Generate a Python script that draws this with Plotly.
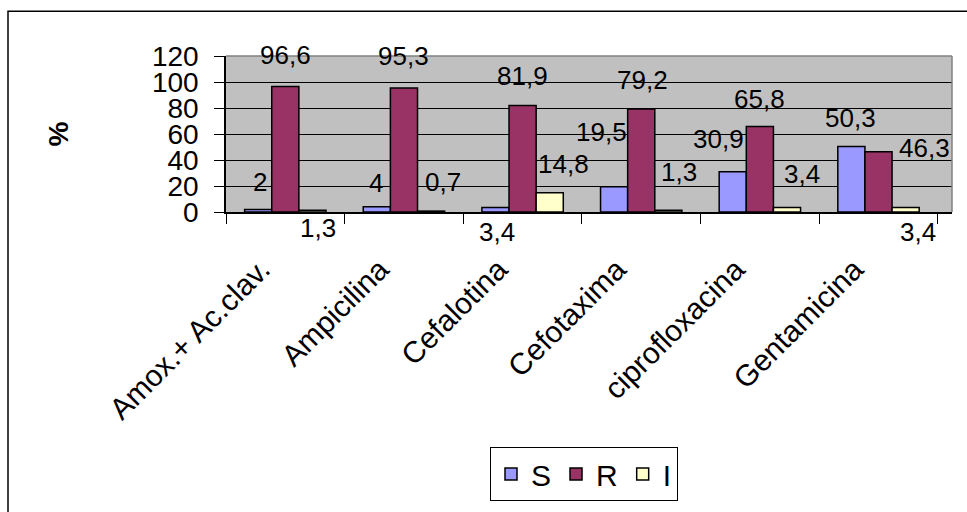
import plotly.graph_objects as go

# Antibiotic susceptibility profile (% of isolates)
categories = ["Amox.+ Ac.clav.", "Ampicilina", "Cefalotina",
              "Cefotaxima", "ciprofloxacina", "Gentamicina"]
series_names = ["S", "R", "I"]
s_values = [2, 4, 3.4, 19.5, 30.9, 50.3]
r_values = [96.6, 95.3, 81.9, 79.2, 65.8, 46.3]
i_values = [1.3, 0.7, 14.8, 1.3, 3.4, 3.4]
y_ticks = [0, 20, 40, 60, 80, 100, 120]

colors = ["#9999FF", "#993366", "#FFFFCC"]
values = [s_values, r_values, i_values]

# Hand-placed value labels: pixel offsets of each label's centre from the
# top-centre of its bar (dx to the right, dy downward)
label_dx = [
    [2, 0, 2, -12, -14, 0],
    [0, 0, 0, 1, 0, 46],
    [5, 11, 13, 10, 14, 12],
]
label_dy = [
    [-27, -24, 24, -55, -33, -29],
    [-31, -32, -30, -29, -27, -4],
    [18, -29, -29, -38, -34, 24],
]

FONT = "Liberation Sans, Arial, sans-serif"
W, H = 967, 512
L, R, T, B = 226, 15, 56, 296
plot_w = W - L - R
plot_h = H - T - B
bargap = 0.314
bar_w = plot_w / len(categories) * (1 - bargap) / len(series_names)

fig = go.Figure()
for name, vals, col in zip(series_names, values, colors):
    fig.add_trace(go.Bar(
        name=name, x=categories, y=vals,
        marker=dict(color=col, line=dict(color="black", width=1.5)),
    ))

annotations = []
for k, vals in enumerate(values):
    offset = (k - 1) * bar_w
    for j, v in enumerate(vals):
        annotations.append(dict(
            x=categories[j], y=v, xref="x", yref="y",
            text=f"{v:g}".replace(".", ","),
            showarrow=False, xanchor="center", yanchor="middle",
            xshift=offset + label_dx[k][j], yshift=-label_dy[k][j],
            font=dict(family=FONT, size=26, color="black"),
        ))

frame = dict(color="#808080", width=1.5)
shapes = [
    # grey top and right edges of the plot area
    dict(type="line", xref="paper", yref="paper", x0=0, x1=1, y0=1, y1=1,
         line=frame, layer="above"),
    dict(type="line", xref="paper", yref="paper", x0=1, x1=1, y0=0, y1=1,
         line=frame, layer="above"),
    # outer chart border
    dict(type="rect", xref="paper", yref="paper",
         x0=(8 - L) / plot_w, x1=1.2,
         y0=-2.0, y1=(T + plot_h - 10) / plot_h,
         line=dict(color="black", width=1.5)),
]

fig.update_layout(
    width=W, height=H,
    margin=dict(l=L, r=R, t=T, b=B),
    paper_bgcolor="white", plot_bgcolor="#C0C0C0",
    barmode="group", bargap=bargap, bargroupgap=0,
    font=dict(family=FONT, size=30, color="black"),
    showlegend=True,
    legend=dict(
        orientation="h", x=(490 - L) / plot_w, xanchor="left",
        y=(T + plot_h - 457) / plot_h, yanchor="top",
        bordercolor="black", borderwidth=1, bgcolor="white",
        font=dict(family=FONT, size=30), traceorder="normal",
    ),
    xaxis=dict(
        type="category", tickangle=-45, tickson="boundaries",
        ticks="outside", ticklen=10, tickcolor="black", tickwidth=1,
        ticklabelstandoff=26, ticklabelshift=-24,
        showline=True, linecolor="black", linewidth=1.5,
        showgrid=False, tickfont=dict(family=FONT, size=30),
    ),
    yaxis=dict(
        range=[0, 120], tickvals=y_ticks, ticks="outside", ticklen=10,
        tickcolor="black", tickwidth=1, ticklabelstandoff=10,
        showline=True, linecolor="black", linewidth=1.5,
        showgrid=True, gridcolor="black", gridwidth=1, zeroline=False,
        tickfont=dict(family=FONT, size=28),
        title=dict(text="%", standoff=75,
                   font=dict(family=FONT, size=28, weight="bold")),
    ),
    annotations=annotations,
    shapes=shapes,
)

fig.write_html("out.html")
